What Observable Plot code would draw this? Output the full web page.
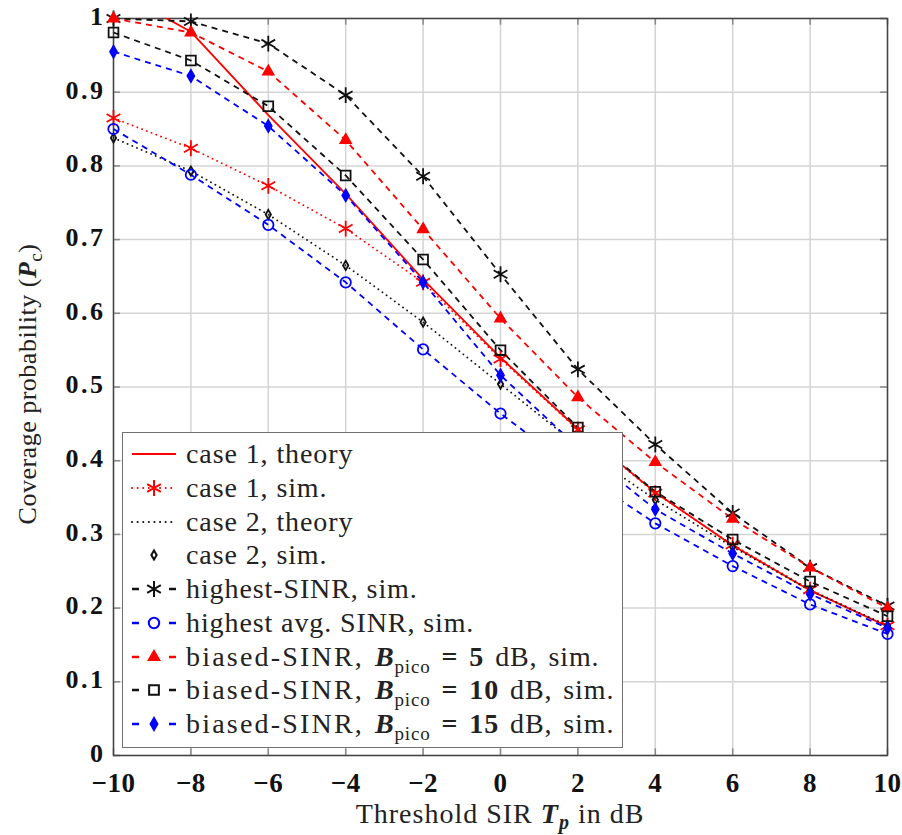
<!DOCTYPE html>
<html><head><meta charset="utf-8">
<script src="https://cdn.jsdelivr.net/npm/d3@7"></script>
<script src="https://cdn.jsdelivr.net/npm/@observablehq/plot@0.6"></script>
<style>
body{margin:0;background:#fff;}
#wrap{position:relative;width:902px;height:835px;}
#legend{position:absolute;left:122px;top:432px;width:499px;height:314px;background:#fff;border:1.5px solid #707070;font-family:"Liberation Serif",serif;font-size:28px;letter-spacing:0.9px;color:#222;}
.row{position:absolute;left:0;height:34px;display:flex;align-items:center;white-space:nowrap}
.row svg{margin-left:8px;margin-right:9px;}
.bias{word-spacing:3px;}
.bias .nm{letter-spacing:2.2px;}
sub{font-size:19px;vertical-align:-7px;line-height:0;letter-spacing:0.8px;}
.eq{margin:0 11px;}
</style></head><body><div id="wrap"></div>
<script>
// ---- data ----
const xTicks = [-10, -8, -6, -4, -2, 0, 2, 4, 6, 8, 10];
const yTicks = [0, 0.1, 0.2, 0.3, 0.4, 0.5, 0.6, 0.7, 0.8, 0.9, 1];
const thresholdDb = [-10, -8, -6, -4, -2, 0, 2, 4, 6, 8, 10];

const case1Theory   = [1.04, 0.982, 0.869, 0.762, 0.646, 0.540, 0.443, 0.357, 0.285, 0.224, 0.175];
const case1Sim      = [0.865, 0.824, 0.773, 0.715, 0.642, 0.538, 0.442, 0.356, 0.286, 0.225, 0.176];
const case2Theory   = [0.838, 0.793, 0.734, 0.665, 0.588, 0.504, 0.420, 0.347, 0.283, 0.224, 0.176];
const case2Sim      = [0.838, 0.793, 0.734, 0.665, 0.588, 0.504, 0.420, 0.347, 0.283, 0.224, 0.176];
const highestSinr   = [1.000, 0.996, 0.966, 0.896, 0.786, 0.653, 0.524, 0.422, 0.329, 0.255, 0.203];
const highestAvg    = [0.850, 0.788, 0.720, 0.642, 0.551, 0.464, 0.385, 0.315, 0.257, 0.205, 0.165];
const biased5       = [1.000, 0.981, 0.928, 0.835, 0.714, 0.593, 0.486, 0.398, 0.321, 0.255, 0.200];
const biased10      = [0.981, 0.943, 0.881, 0.787, 0.673, 0.550, 0.445, 0.358, 0.293, 0.236, 0.189];
const biased15      = [0.955, 0.922, 0.854, 0.760, 0.642, 0.516, 0.418, 0.334, 0.274, 0.219, 0.173];

const legendLabels = ["case 1, theory", "case 1, sim.", "case 2, theory", "case 2, sim.",
  "highest-SINR, sim.", "highest avg. SINR, sim.", "biased-SINR,", "biased-SINR,", "biased-SINR,"];
const biasDb = [5, 10, 15];

// ---- styles ----
const DASH = "6,5", DOT = "0.1,5";
const seriesDefs = [
  {values: case1Theory, stroke: "#ff0000", dash: null, line: true, clip: true},
  {values: case1Sim, stroke: "#ff0000", dash: DOT, line: true, symbol: "asterisk", r: 7.5, fill: "none"},
  {values: case2Theory, stroke: "#111", dash: DOT, line: true},
  {values: case2Sim, stroke: "#111", line: false, symbol: "diamond", r: 2.8, fill: "none"},
  {values: highestSinr, stroke: "#111", dash: DASH, line: true, symbol: "asterisk", r: 7.5, fill: "none"},
  {values: highestAvg, stroke: "#0000ff", dash: DASH, line: true, symbol: "circle", r: 5.2, fill: "none"},
  {values: biased5, stroke: "#ff0000", dash: DASH, line: true, symbol: "triangle", r: 3.9, fill: "#ff0000"},
  {values: biased10, stroke: "#111", dash: DASH, line: true, symbol: "square", r: 5.5, fill: "none"},
  {values: biased15, stroke: "#0000ff", dash: DASH, line: true, symbol: "diamond", r: 3.6, fill: "#0000ff"}
];

const fmtX = d => d < 0 ? "\u2212" + (-d) : String(d);
const fmtY = d => String(d);

const marks = [
  Plot.gridX(xTicks, {stroke: "#d4d4d4", strokeOpacity: 1, strokeWidth: 1.5}),
  Plot.gridY(yTicks, {stroke: "#d4d4d4", strokeOpacity: 1, strokeWidth: 1.5}),
  Plot.ruleX(xTicks, {y1: 0, y2: 0.009, stroke: "#888", strokeWidth: 1.5}),
  Plot.ruleX(xTicks, {y1: 1, y2: 0.991, stroke: "#888", strokeWidth: 1.5}),
  Plot.ruleY(yTicks, {x1: -10, x2: -9.82, stroke: "#888", strokeWidth: 1.5}),
  Plot.ruleY(yTicks, {x1: 10, x2: 9.82, stroke: "#888", strokeWidth: 1.5}),
  Plot.frame({stroke: "#444", strokeWidth: 1.5}),
  Plot.axisX(xTicks, {tickSize: 0, tickPadding: 17, tickFormat: fmtX, label: null, fontWeight: "bold", fontSize: 27, fill: "#111"}),
  Plot.axisY(yTicks, {tickSize: 0, tickPadding: 8, dy: -2, tickFormat: fmtY, label: null, fontWeight: "bold", fontSize: 26, fill: "#111"})
];

seriesDefs.forEach(s => {
  const data = thresholdDb.map((x, i) => ({x, y: s.values[i]}));
  if (s.line) marks.push(Plot.line(data, {x: "x", y: "y", stroke: s.stroke, strokeWidth: 1.8,
    strokeDasharray: s.dash || undefined, strokeLinecap: s.dash === DOT ? "round" : "butt", clip: !!s.clip}));
});
seriesDefs.forEach(s => {
  const data = thresholdDb.map((x, i) => ({x, y: s.values[i]}));
  if (s.symbol) marks.push(Plot.dot(data, {x: "x", y: "y", symbol: s.symbol, r: s.r,
    stroke: s.stroke, fill: s.fill, strokeWidth: 1.8}));
});

const chart = Plot.plot({
  width: 902, height: 835,
  marginLeft: 113, marginRight: 15, marginTop: 18, marginBottom: 80,
  x: {domain: [-10, 10]},
  y: {domain: [0, 1]},
  style: {fontFamily: "Liberation Serif, serif", background: "white", overflow: "visible", letterSpacing: "0.5px"},
  marks
});
const wrap = document.getElementById("wrap");
wrap.appendChild(chart);
// widen y tick labels (bold CM look)
d3.select(chart).selectAll("g[aria-label='y-axis tick label'] text").style("letter-spacing", "2.5px");

// axis titles with math
const svg = d3.select(chart);
const xl = svg.append("text").attr("x", 500).attr("y", 823).attr("text-anchor", "middle")
  .style("font-family", "Liberation Serif, serif").style("font-size", "28px").style("letter-spacing", "1px").attr("fill", "#222");
xl.append("tspan").text("Threshold SIR ");
xl.append("tspan").text("T").style("font-weight", "bold").style("font-style", "italic");
xl.append("tspan").text("p").style("font-weight", "bold").style("font-style", "italic").style("font-size", "20px").attr("dy", 6);
xl.append("tspan").text(" in dB").attr("dy", -6);

const yl = svg.append("text").attr("transform", "translate(36,384) rotate(-90)").attr("text-anchor", "middle")
  .style("font-family", "Liberation Serif, serif").style("font-size", "26px").style("letter-spacing", "0.5px").attr("fill", "#222");
yl.append("tspan").text("Coverage probability (");
yl.append("tspan").text("P").style("font-weight", "bold").style("font-style", "italic");
yl.append("tspan").text("c").style("font-size", "19px").attr("dy", 6);
yl.append("tspan").text(")").attr("dy", -6);

// legend (overlaid box)
const legend = document.createElement("div");
legend.id = "legend";
wrap.appendChild(legend);
const symMap = {asterisk: d3.symbolAsterisk, circle: d3.symbolCircle, triangle: d3.symbolTriangle,
  square: d3.symbolSquare, diamond: d3.symbolDiamond};
seriesDefs.forEach((s, i) => {
  const row = document.createElement("div");
  row.className = "row";
  row.style.top = (4 + i * 33.75) + "px";
  const sv = d3.create("svg").attr("width", 46).attr("height", 34);
  if (s.line) {
    const hasSym = !!s.symbol;
    if (hasSym && s.dash === DASH) {
      sv.append("line").attr("x1", 1).attr("x2", 8).attr("y1", 17).attr("y2", 17).attr("stroke", s.stroke).attr("stroke-width", 2.5);
      sv.append("line").attr("x1", 38).attr("x2", 45).attr("y1", 17).attr("y2", 17).attr("stroke", s.stroke).attr("stroke-width", 2.5);
    } else {
      sv.append("line").attr("x1", 1).attr("x2", 45).attr("y1", 17).attr("y2", 17).attr("stroke", s.stroke)
        .attr("stroke-width", s.dash === DOT ? 2 : 1.8).attr("stroke-dasharray", s.dash === DOT ? "0.1,5.5" : null)
        .attr("stroke-linecap", s.dash === DOT ? "round" : "butt");
    }
  }
  if (s.symbol) {
    sv.append("path").attr("transform", "translate(23,17)")
      .attr("d", d3.symbol(symMap[s.symbol], Math.PI * s.r * s.r)())
      .attr("stroke", s.stroke).attr("fill", s.fill).attr("stroke-width", 2);
  }
  row.appendChild(sv.node());
  const span = document.createElement("span");
  if (i >= 6) {
    const b = biasDb[i - 6];
    span.className = "bias";
    span.innerHTML = "<span class=\"nm\">" + legendLabels[i] + "</span> <b><i>B</i></b><sub>pico</sub><b class=\"eq\">=</b><b>" + b + "</b> dB, sim.";
  } else {
    span.textContent = legendLabels[i];
  }
  row.appendChild(span);
  legend.appendChild(row);
});
</script>
</body></html>
